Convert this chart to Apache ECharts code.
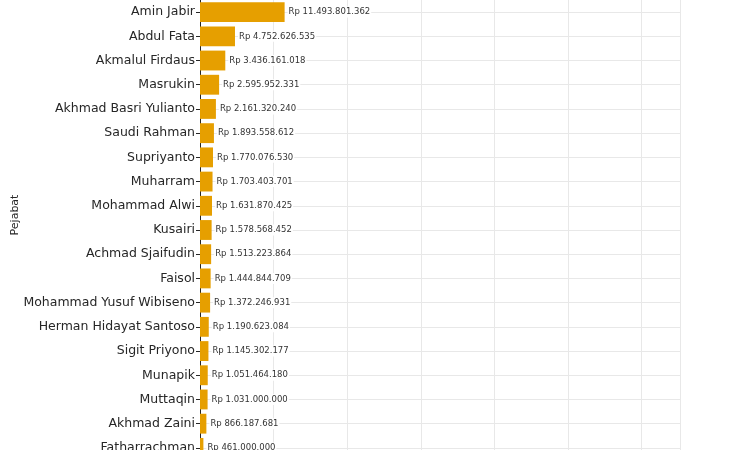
<!DOCTYPE html>
<html>
<head>
<meta charset="utf-8">
<script src="https://cdn.jsdelivr.net/npm/echarts@6/dist/echarts.min.js"></script>
<style>html,body{margin:0;padding:0;background:#fff;}#c{width:750px;height:450px;}</style>
</head>
<body>
<div id="c"></div>
<script>
const names = ["Amin Jabir","Abdul Fata","Akmalul Firdaus","Masrukin","Akhmad Basri Yulianto","Saudi Rahman","Supriyanto","Muharram","Mohammad Alwi","Kusairi","Achmad Sjaifudin","Faisol","Mohammad Yusuf Wibiseno","Herman Hidayat Santoso","Sigit Priyono","Munapik","Muttaqin","Akhmad Zaini","Fatharrachman"];
const values = [11493801362,4752626535,3436161018,2595952331,2161320240,1893558612,1770076530,1703403701,1631870425,1578568452,1513223864,1444844709,1372246931,1190623084,1145302177,1051464180,1031000000,866187681,461000000];
const xTicks = [0,10e9,20e9,30e9,40e9,50e9,60e9];
const yTitle = 'Pejabat';

function rp(v){ return 'Rp ' + String(v).replace(/\B(?=(\d{3})+(?!\d))/g,'.'); }

const chart = echarts.init(document.getElementById('c'));
chart.setOption({
  animation:false,
  backgroundColor:'#fff',
  textStyle:{fontFamily:'DejaVu Sans'},
  grid:{left:200, top:0, width:480, height:460, outerBoundsMode:'none', containLabel:false},
  graphic:[{type:'text', x:15, y:215, rotation:Math.PI/2,
    style:{text:yTitle, align:'center', verticalAlign:'middle', fontSize:11, fill:'#262626', fontFamily:'DejaVu Sans'}}],
  xAxis:{type:'value', min:0, max:65.2e9, interval:xTicks[1]-xTicks[0],
    axisLine:{show:false}, axisTick:{show:false}, axisLabel:{show:false},
    splitLine:{show:true, lineStyle:{color:'#e8e8e8', width:1}}},
  yAxis:{type:'category', inverse:true, data:names,
    axisLine:{show:true, lineStyle:{color:'#262626', width:1}},
    axisTick:{show:true, alignWithLabel:true, length:4, lineStyle:{color:'#262626'}},
    axisLabel:{fontSize:12.5, color:'#262626', margin:5, fontFamily:'DejaVu Sans'},
    splitLine:{show:true, alignWithLabel:true, lineStyle:{color:'#e8e8e8', width:1}}},
  series:[{type:'bar', data:values, barWidth:'82%', z:3,
    itemStyle:{color:'#E69F00'},
    label:{show:true, position:'right', distance:3, fontSize:8.5, color:'#333',
      fontFamily:'DejaVu Sans', backgroundColor:'#fff', padding:[1,1],
      formatter:p=>rp(p.value)}}]
});
</script>
</body>
</html>
